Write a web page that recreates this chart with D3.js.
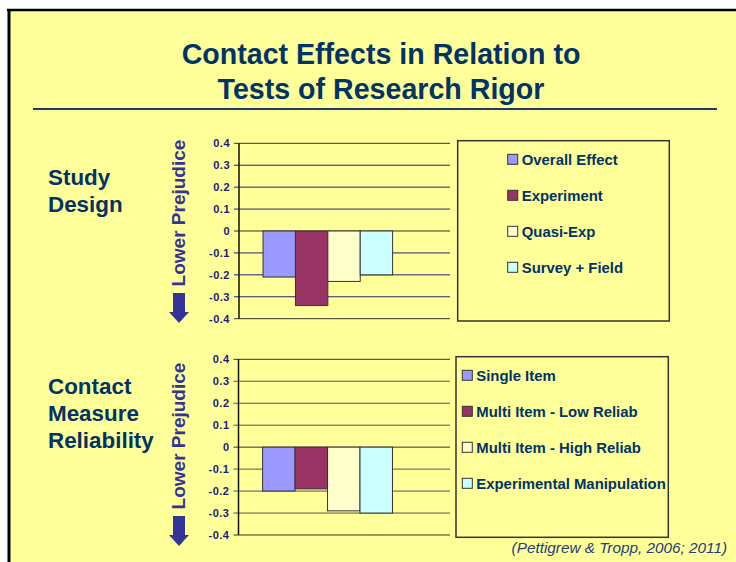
<!DOCTYPE html>
<html>
<head>
<meta charset="utf-8">
<script src="https://cdn.jsdelivr.net/npm/d3@7"></script>
<style>
  body { margin: 0; background: #fff; }
  svg { display: block; font-family: "Liberation Sans", Arial, sans-serif; }
</style>
</head>
<body>
<svg width="736" height="562"></svg>
<script>
// data
var designSeries = ["Overall Effect", "Experiment", "Quasi-Exp", "Survey + Field"];
var designValues = [-0.21, -0.34, -0.23, -0.20];
var reliabSeries = ["Single Item", "Multi Item - Low Reliab", "Multi Item - High Reliab", "Experimental Manipulation"];
var reliabValues = [-0.20, -0.19, -0.29, -0.30];
var seriesColors = ["#9999ff", "#993366", "#ffffcc", "#ccffff"];
var yTicks = [0.4, 0.3, 0.2, 0.1, 0, -0.1, -0.2, -0.3, -0.4];
var titleLines = ["Contact Effects in Relation to", "Tests of Research Rigor"];

var navy = "#003366";

var svg = d3.select("svg"),
    width = +svg.attr("width"),
    height = +svg.attr("height");

// slide background + frame
svg.append("rect")
    .attr("x", 9).attr("y", 10)
    .attr("width", width - 9).attr("height", height - 10)
    .attr("fill", "#ffff99");
svg.append("line")
    .attr("x1", 7).attr("x2", width)
    .attr("y1", 10).attr("y2", 10)
    .attr("stroke", "#000").attr("stroke-width", 2.5);
svg.append("line")
    .attr("x1", 9).attr("x2", 9)
    .attr("y1", 9).attr("y2", height)
    .attr("stroke", "#000").attr("stroke-width", 3);

// title
svg.append("g")
    .selectAll("text")
    .data(titleLines)
    .enter().append("text")
      .attr("x", 381)
      .attr("y", function(d, i) { return 63.5 + i * 35; })
      .attr("text-anchor", "middle")
      .attr("font-size", 28.6)
      .attr("font-weight", "bold")
      .attr("fill", navy)
      .text(function(d) { return d; });

svg.append("line")
    .attr("x1", 33).attr("x2", 717)
    .attr("y1", 109).attr("y2", 109)
    .attr("stroke", "#1c3a6b").attr("stroke-width", 2);

function drawPanel(opts) {
  var y = d3.scaleLinear()
      .domain([-0.4, 0.4])
      .range([opts.bottom, opts.top]);

  // where the single category cluster sits inside the plot
  var frac = d3.scaleLinear().domain([0, 1]).range([opts.left, opts.right]);
  var x = d3.scaleBand()
      .domain(opts.series)
      .range([frac(0.114), frac(0.728)]);

  var g = svg.append("g");

  // section label on the left
  g.append("g")
    .selectAll("text")
    .data(opts.label)
    .enter().append("text")
      .attr("x", 48)
      .attr("y", function(d, i) { return opts.labelY + i * 27; })
      .attr("font-size", 22.4)
      .attr("font-weight", "bold")
      .attr("fill", navy)
      .text(function(d) { return d; });

  // gridlines
  g.append("g")
    .selectAll("line")
    .data(yTicks)
    .enter().append("line")
      .attr("x1", opts.left - 5)
      .attr("x2", opts.right)
      .attr("y1", function(d) { return y(d); })
      .attr("y2", function(d) { return y(d); })
      .attr("stroke", function(d) { return (d === 0.4 || d === -0.4 || d === 0) ? "#333" : opts.gridColor; })
      .attr("stroke-width", 1);

  // tick labels
  g.append("g")
    .selectAll("text")
    .data(yTicks)
    .enter().append("text")
      .attr("x", opts.left - 9)
      .attr("y", function(d) { return y(d); })
      .attr("dy", "0.36em")
      .attr("text-anchor", "end")
      .attr("font-size", 11)
      .attr("font-weight", "bold")
      .attr("letter-spacing", 0.5)
      .attr("fill", "#1a1a80")
      .text(function(d) { return d === 0 ? "0" : d.toFixed(1); });

  // bars
  g.append("g")
    .selectAll("rect")
    .data(opts.values)
    .enter().append("rect")
      .attr("x", function(d, i) { return x(opts.series[i]); })
      .attr("y", function(d) { return y(Math.max(0, d)); })
      .attr("width", x.bandwidth())
      .attr("height", function(d) { return Math.abs(y(d) - y(0)); })
      .attr("fill", function(d, i) { return seriesColors[i]; })
      .attr("stroke", "#333")
      .attr("stroke-width", 1);

  // value axis line
  g.append("line")
    .attr("x1", opts.left).attr("x2", opts.left)
    .attr("y1", y(0.4)).attr("y2", y(-0.4))
    .attr("stroke", "#111").attr("stroke-width", 1.5);

  // "Lower Prejudice" + arrow
  g.append("text")
    .attr("transform", "translate(185," + opts.arrowTextY + ")rotate(-90)")
    .attr("text-anchor", "middle")
    .attr("font-size", 19)
    .attr("font-weight", "bold")
    .attr("fill", "#333399")
    .text("Lower Prejudice");

  var a = opts.arrowTop, cx = 179;
  g.append("path")
    .attr("d", d3.line()([
      [cx - 6, a], [cx + 6, a], [cx + 6, a + 19], [cx + 10, a + 19],
      [cx, a + 30], [cx - 10, a + 19], [cx - 6, a + 19]
    ]) + "Z")
    .attr("fill", "#333399");

  // legend
  var leg = g.append("g");
  leg.append("rect")
    .attr("x", opts.legX).attr("y", opts.legY)
    .attr("width", opts.legW).attr("height", opts.legH)
    .attr("fill", "none")
    .attr("stroke", "#333")
    .attr("stroke-width", 1.5);

  var ly = d3.scalePoint()
      .domain(opts.series)
      .range([opts.legY + 18.6, opts.legY + 18.6 + 36 * (opts.series.length - 1)]);

  var item = leg.selectAll("g.item")
    .data(opts.series)
    .enter().append("g")
      .attr("class", "item")
      .attr("transform", function(d) { return "translate(" + opts.swatchX + "," + ly(d) + ")"; });

  item.append("rect")
    .attr("x", 0).attr("y", -5)
    .attr("width", 10).attr("height", 10)
    .attr("fill", function(d, i) { return seriesColors[i]; })
    .attr("stroke", "#333")
    .attr("stroke-width", 1);

  item.append("text")
    .attr("x", 14)
    .attr("y", 5.5)
    .attr("font-size", 14.9)
    .attr("font-weight", "bold")
    .attr("fill", navy)
    .text(function(d) { return d; });
}

drawPanel({
  series: designSeries, values: designValues,
  label: ["Study", "Design"], labelY: 185,
  left: 239, right: 450, top: 143.3, bottom: 318.7,
  gridColor: "#22227a",
  arrowTextY: 213, arrowTop: 293,
  legX: 457.7, legY: 140.7, legW: 211.6, legH: 180.3, swatchX: 507.7
});

drawPanel({
  series: reliabSeries, values: reliabValues,
  label: ["Contact", "Measure", "Reliability"], labelY: 394,
  left: 238.5, right: 450, top: 359.3, bottom: 535,
  gridColor: "#555555",
  arrowTextY: 436, arrowTop: 516,
  legX: 456, legY: 356.7, legW: 212.3, legH: 180.6, swatchX: 462.3
});

// source note
svg.append("text")
    .attr("x", 727)
    .attr("y", 553)
    .attr("text-anchor", "end")
    .attr("font-size", 15.3)
    .attr("font-style", "italic")
    .attr("fill", "#24407a")
    .text("(Pettigrew & Tropp, 2006; 2011)");
</script>
</body>
</html>
